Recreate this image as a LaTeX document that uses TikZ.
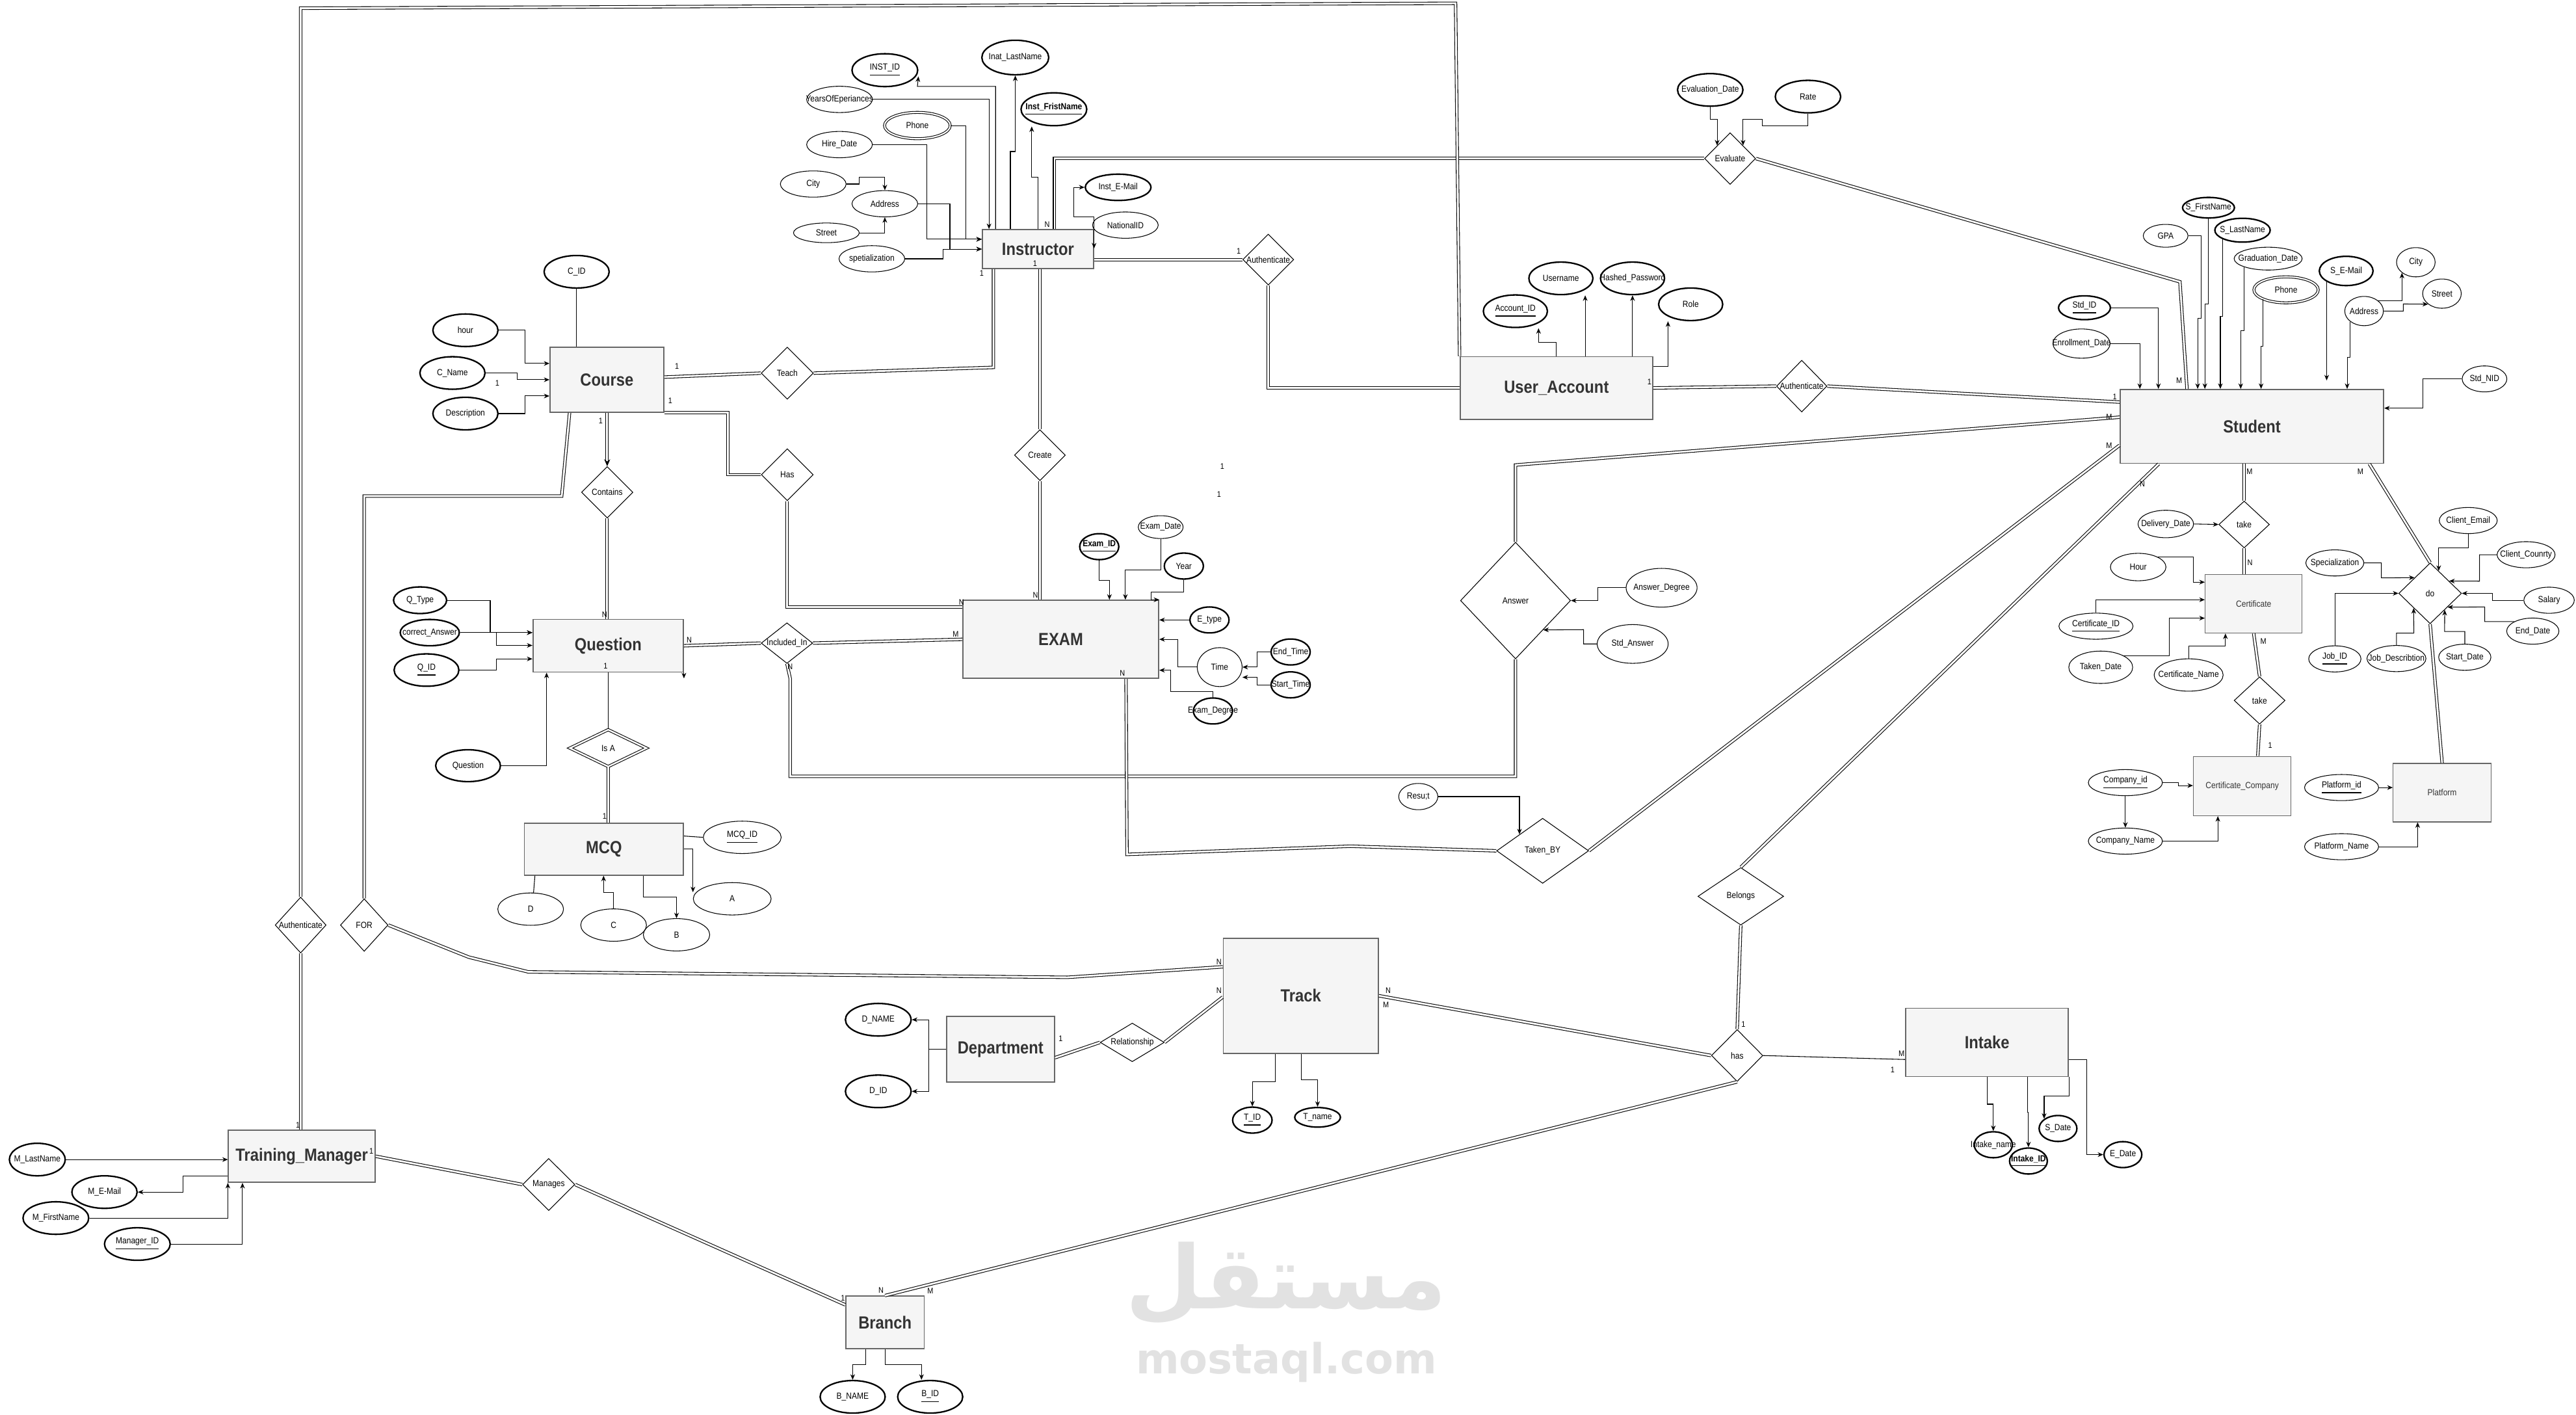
\documentclass[tikz,border=0pt]{standalone}
\usepackage{fontspec}
\setmainfont{Liberation Sans}[FakeStretch=0.88]
\newfontfamily\arabicfont[Script=Arabic]{DejaVu Sans}
\newfontfamily\markfont{DejaVu Sans}
\TeXXeTstate=1
\usetikzlibrary{shapes.geometric,arrows.meta,calc}
\definecolor{ERFill}{HTML}{F5F5F5}
\definecolor{ERLine}{HTML}{666666}
\definecolor{ERText}{HTML}{333333}
\definecolor{ERMark}{HTML}{E2E2E2}
\newcommand\attfont{\fontsize{3.85}{4.5}\selectfont}
\newcommand\entfont{\fontsize{7.6}{9}\selectfont\bfseries}
\newcommand\cardfont{\fontsize{3.5}{4}\selectfont}
\tikzset{
  ent/.style 2 args={draw=ERLine, fill=ERFill, line width=0.5pt, text=ERText, font=\entfont, inner sep=0pt, minimum width={#1*0.025cm}, minimum height={#2*0.025cm}},
  went/.style 2 args={ent={#1}{#2}, line width=0.35pt, font=\attfont},
  zw/.style={execute at begin node={\hbox to 0pt\bgroup\hss}, execute at end node={\hss\egroup}},
  att/.style 2 args={ellipse, draw, line width=0.3pt, inner sep=0pt, font=\attfont, zw, minimum width={#1*0.025cm}, minimum height={#2*0.025cm}},
  attb/.style 2 args={att={#1}{#2}, line width=0.65pt},
  attm/.style 2 args={att={#1}{#2}, double, double distance=0.6pt, line width=0.3pt},
  rel/.style 2 args={diamond, draw, line width=0.3pt, inner sep=0pt, font=\attfont, zw, minimum width={#1*0.025cm}, minimum height={#2*0.025cm}},
  wrel/.style 2 args={rel={#1}{#2}, double, double distance=0.7pt},
  card/.style={font=\cardfont, inner sep=0pt},
  ln/.style={line width=0.3pt},
  arr/.style={line width=0.3pt, -{Stealth[length=2.4pt,width=2pt]}},
  arr2/.style={line width=0.3pt, {Stealth[length=2.4pt,width=2pt]}-{Stealth[length=2.4pt,width=2pt]}},
  dbl/.style={double, double distance=0.8pt, line width=0.3pt},
}
\begin{document}
\begin{tikzpicture}[x=0.025cm,y=-0.025cm]
\path[use as bounding box] (0,0) rectangle (1568,861);
\node[text=ERMark, inner sep=0pt, font=\arabicfont\bfseries\fontsize{38}{38}\selectfont] (wmar) at (783,781) {\beginR مستقل\endR};
\node[text=ERMark, inner sep=0pt, font=\markfont\bfseries\fontsize{18}{18}\selectfont] (wmlat) at (783,829) {mostaql.com};

\node[ent={67.6}{23.7}] (instr) at (631.8,151.6) {Instructor};
\node[ent={69.2}{39.6}] (course) at (369.4,231.1) {Course};
\node[ent={91.5}{32}] (quest) at (370.2,393) {Question};
\node[ent={119.2}{47.5}] (exam) at (645.7,389.1) {EXAM};
\node[ent={96.8}{31.6}] (mcq) at (367.6,516.8) {MCQ};
\node[ent={117.2}{38.1}] (uacc) at (947.4,236.1) {User\_Account};
\node[ent={160.4}{44.9}] (stud) at (1370.7,259.5) {Student};
\node[went={59}{35.6}] (cert) at (1371.8,367.5) {Certificate};
\node[went={59.4}{36.1}] (certco) at (1364.8,478.4) {Certificate\_Company};
\node[went={59.6}{35.6}] (platf) at (1486.5,482.4) {Platform};
\node[ent={94.3}{70}] (track) at (791.8,606) {Track};
\node[ent={65.7}{39.9}] (dept) at (609,638.6) {Department};
\node[ent={99}{41.6}] (intake) at (1209.5,634.4) {Intake};
\node[ent={89.3}{31.7}] (trman) at (183.7,703.7) {Training\_Manager};
\node[ent={47.8}{31.9}] (branch) at (538.7,804.8) {Branch};

\node[rel={31.7}{31.7}] (teach) at (479.2,227.1) {Teach};
\node[rel={31.7}{31.7}] (hasc) at (479.2,288.9) {Has};
\node[rel={31.3}{31.3}] (contains) at (369.6,299.6) {Contains};
\node[rel={31}{31}] (create) at (633,277) {Create};
\node[rel={31.3}{24.7}] (incl) at (479,391.4) {Included\_In};
\node[wrel={46.8}{22.6}] (isa) at (370.2,455.3) {Is A};
\node[rel={31}{31}] (authI) at (772,158) {Authenticate};
\node[rel={31.1}{31.5}] (evalr) at (1053.1,96.5) {Evaluate};
\node[rel={30.7}{31.5}] (authS) at (1096.7,235) {Authenticate};
\node[rel={67}{71}] (answer) at (922.5,365.5) {Answer};
\node[rel={56}{39.6}] (takenby) at (939,517.8) {Taken\_BY};
\node[rel={52.2}{35}] (belongs) at (1059.6,545.5) {Belongs};
\node[rel={31.3}{31.6}] (hasi) at (1057.4,642.4) {has};
\node[rel={30.8}{28.5}] (taket) at (1366,319.2) {take};
\node[rel={31}{28.8}] (takec) at (1375.4,426.3) {take};
\node[rel={38.2}{37}] (dor) at (1479.2,361.1) {do};
\node[rel={31}{34}] (authT) at (183,563) {Authenticate};
\node[rel={29}{32}] (forr) at (221.7,563) {FOR};
\node[rel={39}{23.5}] (relship) at (689.2,634.4) {Relationship};
\node[rel={31.8}{31.7}] (manages) at (334,720.9) {Manages};

\node[attb={40}{20}] (instid) at (538.6,42.7) {\underline{INST\_ID}};
\node[attb={40.7}{21}] (instln) at (618,35) {Inat\_LastName};
\node[att={40}{16}] (yexp) at (511,60.5) {YearsOfEperiances};
\node[attb={40}{20}] (instfn) at (641.5,66.5) {\bfseries\underline{Inst\_FristName}};
\node[attm={40}{16}] (iphone) at (558.4,76.4) {Phone};
\node[att={40}{16}] (hired) at (511,88) {Hire\_Date};
\node[att={40}{16}] (icity) at (495,112) {City};
\node[att={40}{16}] (iaddr) at (538.6,124) {Address};
\node[att={40}{12}] (istreet) at (503,141.7) {Street};
\node[att={40}{16}] (ispec) at (530.7,157.5) {spetialization};
\node[attb={40}{16}] (imail) at (680.6,114) {Inst\_E-Mail};
\node[att={40}{16}] (inid) at (685,137) {NationalID};

\node[attb={39.6}{19.8}] (cid) at (351,165.4) {C\_ID};
\node[attb={39.6}{19.8}] (chour) at (283.3,201) {hour};
\node[attb={39.6}{19.8}] (cname) at (275.4,227) {C\_Name};
\node[attb={39.6}{19.8}] (cdesc) at (283.3,251.7) {Description};

\node[attb={32.3}{16.2}] (qtype) at (255.7,365.3) {Q\_Type};
\node[attb={36}{16}] (qans) at (261.6,385) {correct\_Answer};
\node[attb={39.4}{19.7}] (qid) at (259.6,407.8) {\underline{Q\_ID}};
\node[attb={39.4}{19.4}] (qtext) at (284.9,466) {Question};

\node[att={47.4}{19.7}] (mcqid) at (451.8,509.6) {\underline{MCQ\_ID}};
\node[att={47.4}{19.7}] (ma) at (445.7,547) {A};
\node[att={40.4}{19.7}] (mb) at (411.8,568.9) {B};
\node[att={40}{19.7}] (mc) at (373.5,563) {C};
\node[att={40}{19.7}] (md) at (323,553.3) {D};

\node[attb={23.8}{15.8}] (examid) at (669.1,332.7) {\bfseries\underline{Exam\_ID}};
\node[att={27.3}{13.9}] (examdate) at (706.5,320.8) {Exam\_Date};
\node[attb={23.8}{15.8}] (eyear) at (720.6,344.5) {Year};
\node[attb={23.8}{15.8}] (etype) at (736.2,377.3) {E\_type};
\node[att={27.3}{23.7}] (etime) at (742.4,406) {Time};
\node[attb={23.8}{15.8}] (endt) at (785.6,396.8) {End\_Time};
\node[attb={23.8}{15.8}] (startt) at (785.6,416.8) {Start\_Time};
\node[attb={23.8}{15.8}] (edeg) at (738.3,432.7) {Exam\_Degree};

\node[attb={39}{19.8}] (accid) at (922.4,189.4) {\underline{Account\_ID}};
\node[attb={39}{19.8}] (uname) at (950.1,169.4) {Username};
\node[attb={39}{19.8}] (hpass) at (993.7,169.4) {Hashed\_Password};
\node[attb={39}{19.8}] (urole) at (1029.1,185.2) {Role};
\node[attb={39.8}{19.8}] (evdate) at (1041,54.7) {Evaluation\_Date};
\node[attb={39.8}{19.8}] (rate) at (1100.5,58.8) {Rate};

\node[att={43.2}{23.6}] (ansdeg) at (1011.4,357.7) {Answer\_Degree};
\node[att={43.2}{23.6}] (stdans) at (993.8,391.9) {Std\_Answer};
\node[att={23.8}{16}] (result) at (863.3,484.8) {Resu;t};

\node[attb={31.6}{12.5}] (sfn) at (1344.3,126.4) {S\_FirstName};
\node[att={27.2}{13.9}] (gpa) at (1318.2,143.5) {GPA};
\node[attb={33.7}{14.5}] (sln) at (1365,140.1) {S\_LastName};
\node[att={41.4}{13.9}] (gradd) at (1380.6,157.4) {Graduation\_Date};
\node[attm={39.2}{15.8}] (sphone) at (1391.5,176.4) {Phone};
\node[attb={32.7}{17.8}] (smail) at (1428.1,164.9) {S\_E-Mail};
\node[att={23.5}{17.8}] (scity) at (1470.5,159.6) {City};
\node[att={23.5}{17.8}] (sstreet) at (1486.4,178.7) {Street};
\node[att={23.5}{17.8}] (saddr) at (1439,189.3) {Address};
\node[attb={31.6}{14.5}] (stdid) at (1268.8,187.3) {\underline{Std\_ID}};
\node[att={34.8}{17.8}] (enrd) at (1267,209.1) {Enrollment\_Date};
\node[att={27.2}{15.8}] (stdnid) at (1512.3,230.6) {Std\_NID};

\node[att={33.8}{16.7}] (deliv) at (1318.3,318.9) {Delivery\_Date};
\node[att={33.8}{16.7}] (chr) at (1301.5,345.1) {Hour};
\node[att={45.1}{15.9}] (certid) at (1275.8,381.1) {\underline{Certificate\_ID}};
\node[att={38.9}{19.7}] (takend) at (1278.7,406.1) {Taken\_Date};
\node[att={42}{19.7}] (certname) at (1332.2,410.8) {Certificate\_Name};
\node[att={45.1}{15.9}] (compid) at (1293.7,476.3) {\underline{Company\_id}};
\node[att={45.1}{15.9}] (compname) at (1293.7,511.9) {Company\_Name};
\node[att={45.1}{15.9}] (platid) at (1425.3,479.3) {\underline{Platform\_id}};
\node[att={45.1}{15.9}] (platname) at (1425.3,515.3) {Platform\_Name};
\node[att={35.3}{15.9}] (cmail) at (1502.4,316.8) {Client\_Email};
\node[att={35.3}{15.9}] (ccountry) at (1537.6,337.6) {Client\_Counrty};
\node[att={30.7}{15.9}] (salary) at (1551.6,365.3) {Salary};
\node[att={31.8}{15.9}] (endd) at (1541.7,384.1) {End\_Date};
\node[att={31.8}{15.9}] (startd) at (1500.3,400) {Start\_Date};
\node[att={35.9}{15.9}] (jobdesc) at (1458.7,400.8) {Job\_Describtion};
\node[att={31.8}{15.9}] (jobid) at (1421.2,401) {\underline{Job\_ID}};
\node[att={35.3}{15.9}] (dspec) at (1421.2,342.6) {Specialization};

\node[attb={40}{19.8}] (dname) at (534.6,620.6) {D\_NAME};
\node[attb={40}{19.8}] (did) at (534.6,664.2) {D\_ID};
\node[attb={24}{15.8}] (tid) at (762.3,681.7) {\underline{T\_ID}};
\node[attb={27.8}{11.9}] (tname) at (802,680) {T\_name};

\node[attb={23.2}{15.8}] (iname) at (1213.3,696.7) {Intake\_name};
\node[attb={23}{15.8}] (intid) at (1234.7,706.6) {\bfseries\underline{Intake\_ID}};
\node[attb={23}{15.8}] (sdate) at (1252.7,686.8) {S\_Date};
\node[attb={23}{15.8}] (edate) at (1292.2,702.7) {E\_Date};

\node[attb={34}{19.8}] (mln) at (22.7,705.7) {M\_LastName};
\node[attb={39.7}{19.8}] (mmail) at (63.6,725.5) {M\_E-Mail};
\node[attb={40}{19.8}] (mfn) at (34,741.3) {M\_FirstName};
\node[attb={40}{19.8}] (mid) at (83.6,757.1) {\underline{Manager\_ID}};

\node[attb={39.6}{19.8}] (bname) at (519,850.1) {B\_NAME};
\node[attb={39.6}{19.8}] (bid) at (566.2,850.1) {\underline{B\_ID}};

\coordinate (doA) at ($(dor.north)!.27!(dor.east)$);
\coordinate (doB) at ($(dor.north)!.6!(dor.east)$);
\coordinate (doC) at ($(dor.east)!.45!(dor.south)$);
\coordinate (doD) at ($(dor.south)!.46!(dor.east)$);
\coordinate (doE) at ($(dor.south)!.52!(dor.west)$);
\coordinate (doF) at ($(dor.west)!.51!(dor.north)$);

\draw[arr] (instr.north -| 606,0) |- (558.4,52.6) -- (instid.east |- 0,46.5);
\draw[arr] (yexp.east) -| (instr.north -| 602,0);
\draw[arr] (instr.north -| 615,0) |- (618,92.2) -- (instln.south);
\draw[arr] (instr.north) |- (628,108) -- (instfn.south -| 628,0);
\draw[arr] (iphone.east) -| (588,145.6) -- (instr.west |- 0,145.6);
\draw[arr] (hired.east) -| (564.3,145.6) -- (instr.west |- 0,145.6);
\draw[arr] (iaddr.east) -| (578.2,151.6) -- (instr.west);
\draw[arr] (ispec.east) -| (574.2,151.6) -- (instr.west);
\draw[arr] (icity.east) -| (523.1,108) -| (iaddr.north);
\draw[arr] (istreet.east) -| (iaddr.south);
\draw[arr2] (imail.west) -| (653.7,131.8) -| (instr.east |- 0,151.2);

\draw[dbl] (teach.east) -- (604.7,223.6) -- (instr.south -| 604.7,0);
\draw[dbl] (instr.south -| create) -- (create.north);
\draw[dbl] (create.south) -- (exam.north -| create);
\draw[dbl] (instr.north -| 641.9,0) |- (evalr.west);
\draw[dbl] (instr.east |- authI) -- (authI.west);
\draw[dbl] (authI.south) |- (uacc.west);

\draw[ln] (cid.south) -- (course.north -| cid);
\draw[arr] (chour.east) -| (319.4,221.2) -- (course.west |- 0,221.2);
\draw[arr] (cname.east) -| (315,231.1) -- (course.west);
\draw[arr] (cdesc.east) -| (319.4,241) -- (course.west |- 0,241);
\draw[dbl] (course.east |- 0,229.5) -- (teach.west);
\draw[dbl,-{Stealth[length=3pt,width=2.6pt]}] (course.south -| contains) -- (contains.north);
\draw[dbl] (course.south east) -| (443.2,288.9) -- (hasc.west);
\draw[dbl] (hasc.south) |- (exam.west |- 0,369.4);
\draw[dbl] (course.south -| 346.7,0) -- (341.9,301.9) -| (forr.north);
\draw[dbl] (forr.east) -- (285.3,582.5) -- (321.6,591.5) -- (649.8,594.8) -- (track.west |- 0,588.4);
\draw[dbl] (contains.south) -- (quest.north -| contains);

\draw[arr] (qtype.east) -| (298.4,385) -- (quest.west |- 0,385);
\draw[arr] (qans.east) -- (quest.west |- 0,385);
\draw[arr] (qans.east) -| (302,392.8) -- (quest.west |- 0,392.8);
\draw[arr] (qid.east) -| (302,401) -- (quest.west |- 0,401);
\draw[arr] (qtext.east) -| (quest.south -| 332.7,0);
\draw[arr] (quest.south east) -- ++(0,3.5);
\draw[dbl] (quest.east) -- (incl.west);
\draw[dbl] (incl.east) -- (exam.west);
\draw[ln] (quest.south) -- (isa.north);
\draw[dbl] (isa.south) -- (mcq.north -| isa);
\draw[dbl] (incl.south) -- (481,413) |- (answer.south |- 0,472.5) -- (answer.south);

\draw[ln] (mcq.east |- 0,508.8) -- (mcqid.west);
\draw[arr] (mcq.east |- 0,516.7) -| (ma.west |- 0,543);
\draw[arr] (mcq.south -| 391.6,0) |- (mb.north |- 0,546) -- (mb.north);
\draw[arr] (mc.north) |- (367.4,543) -- (mcq.south -| 367.4,0);
\draw[ln] (md.80) -- (mcq.south -| 325.6,0);

\draw[arr] (examid.south) |- (675.3,353.1) -- (exam.north -| 675.3,0);
\draw[arr] (examdate.south) |- (685,346.7) -- (exam.north -| 685,0);
\draw[arr] (eyear.south) |- (700.8,360.5) |- (exam.north east);
\draw[arr] (etype.west) -- (exam.east |- etype);
\draw[arr] (etime.west) -| (716.8,389.1) -- (exam.east);
\draw[arr] (endt.west) -| (765.3,406) -- (etime.east);
\draw[arr] (startt.west) -| (765.3,412.2) -- (etime.east |- 0,412.2);
\draw[arr] (edeg.north) |- (712.7,420.8) |- (exam.east |- 0,407.9);
\draw[dbl] (exam.south -| 685.4,0) -- (686,520) -- (822,515) -- (takenby.west);

\draw[arr] (uacc.north) |- (936.5,208.3) -- (accid.south -| 936.5,0);
\draw[arr] (uacc.north -| 964.9,0) -- (uname.south -| 964.9,0);
\draw[arr] (uacc.north -| hpass) -- (hpass.south);
\draw[arr] (uacc.east |- 0,222.9) -| (urole.south -| 1015.3,0);
\draw[dbl] (uacc.east) -- (authS.west);
\draw[dbl] (authS.east) -- (stud.west |- 0,244.7);
\draw[arr] (evdate.south) |- (evalr.north west |- 0,72.7) -- (evalr.north west);
\draw[arr] (rate.south) |- (1072.8,76.4) |- (evalr.north east |- 0,72.7) -- (evalr.north east);
\draw[dbl] (evalr.east) -- (1326.9,171.5) -- (stud.north -| 1331.2,0);
\draw[dbl] (authT.north) -- (183,5) -- (886,2) -- (uacc.north west);
\draw[dbl] (authT.south) -- (trman.north -| authT);

\draw[arr] (ansdeg.west) -| (972.7,365.5) -- (answer.east);
\draw[arr] (stdans.west) -| (963.9,383.2) -- (answer.south east);
\draw[dbl] (answer.north) -- (922.5,283) -- (stud.west |- 0,253.9);
\draw[arr] (result.east) -| (takenby.north west);
\draw[dbl] (takenby.east) -- (stud.west |- 0,271);
\draw[dbl] (belongs.north) -- (stud.south -| 1314,0);
\draw[dbl] (belongs.south) -- (hasi.north);
\draw[dbl] (track.east) -- (hasi.west);
\draw[ln] (hasi.east) -- (intake.west |- 0,644.8);
\draw[dbl] (hasi.south) -- (branch.north);
\draw[dbl] (manages.east) -- (branch.west |- 0,794.1);
\draw[dbl] (trman.east) -- (manages.west);

\draw[arr] (dept.west) -| (565.3,620.6) -- (dname.east);
\draw[arr] (dept.west) -| (565.3,664.2) -- (did.east);
\draw[dbl] (dept.east |- 0,643.7) -- (relship.west);
\draw[dbl] (relship.east) -- (track.west |- 0,606.8);
\draw[arr] (track.south -| 776.2,0) |- (tid.north |- 0,658.2) -- (tid.north);
\draw[arr] (track.south -| 792.1,0) |- (tname.north |- 0,657) -- (tname.north);

\draw[arr] (intake.south) |- (iname.north |- 0,672) -- (iname.north);
\draw[arr] (intake.south -| 1234.1,0) |- (intid.north |- 0,677) -- (intid.north);
\draw[arr] (intake.south east) |- (sdate.north west |- 0,667.2) -- (sdate.north west);
\draw[arr] (intake.east |- 0,645) -| (1270,702.7) -- (edate.west);

\draw[arr] (mln.east) -- (trman.west |- mln);
\draw[arr] (trman.west |- 0,715.6) -| (111.3,725.5) -- (mmail.east);
\draw[arr] (mfn.east) -| (trman.south west);
\draw[arr] (mid.east) -| (trman.south -| 147.6,0);

\draw[arr] (branch.south -| 527,0) |- (bname.north |- 0,830.4) -- (bname.north);
\draw[arr] (branch.south -| 538.9,0) |- (560.9,830.4) -- (bid.north -| 560.9,0);

\draw[arr] (stdid.east) -| (stud.north -| 1313.8,0);
\draw[arr] (enrd.east) -| (stud.north -| 1302.5,0);
\draw[arr] (gpa.east) -| (1340,193.9) -| (stud.north -| 1337.7,0);
\draw[arr] (sfn.south) |- (1342.1,185.1) -- (stud.north -| 1342.1,0);
\draw[arr] (sln.south west) |- (1351.5,192.6) -- (stud.north -| 1351.5,0);
\draw[arr] (gradd.south west) |- (1363.9,201.2) -- (stud.north -| 1363.9,0);
\draw[arr] (sphone.south west) |- (1376.3,210.8) -- (stud.north -| 1376.3,0);
\draw[arr] (smail.south west) -- ++(0,60);
\draw[arr] (saddr.south west) |- (1428.7,217.6) -- (stud.north -| 1428.7,0);
\draw[arr] (saddr.north east) -| (scity.south west);
\draw[arr] (saddr.east) -| (1462.9,185) -- (sstreet.south west);
\draw[arr] (stdnid.west) -| (1474.9,248.4) -- (stud.east |- 0,248.4);

\draw[dbl] (stud.south -| taket) -- (taket.north);
\draw[arr] (deliv.east) -- (taket.west);
\draw[dbl] (taket.south) -- (cert.north -| taket);
\draw[dbl] (stud.south -| 1442.2,0) -- (dor.north);
\draw[dbl] (dor.south) -- (platf.north);
\draw[arr] (chr.north east) -| (1335.1,354.3) -- (cert.west |- 0,354.3);
\draw[arr] (certid.north) |- (cert.west |- 0,365);
\draw[arr] (takend.north east) -| (1320.3,376.2) -- (cert.west |- 0,376.2);
\draw[arr] (certname.north) |- (1354.6,393.2) -- (cert.south -| 1354.6,0);
\draw[dbl] (cert.south) -- (takec.north);
\draw[dbl] (takec.south) -- (certco.north -| 1374.3,0);
\draw[arr] (compid.east) -| (1326.1,478.1) -- (certco.west |- 0,478.1);
\draw[arr] (compid.south) -- (compname.north);
\draw[arr] (compname.east) -| (certco.south -| 1350,0);
\draw[arr] (platid.east) -- (platf.west |- platid);
\draw[arr] (platname.east) -| (platf.south -| 1471.6,0);
\draw[arr] (cmail.south) |- (doA |- 0,333.5) -- (doA);
\draw[arr] (ccountry.west) -| (1509.3,353.7) -- (doB);
\draw[arr] (salary.west) -| (1517.1,361.1) -- (dor.east);
\draw[arr] (endd.north west) -| (1512.4,369.4) -- (doC);
\draw[arr] (startd.north) |- (1488,384.3) -- (doD);
\draw[arr] (jobdesc.north) |- (1469.3,385.3) -- (doE);
\draw[arr] (jobid.north) |- (dor.west);
\draw[arr] (dspec.east) -| (1449.5,351.7) -- (doF);

\node[card] (k1) at (637.4,136.5) {N};
\node[card] (k2) at (630,160.3) {1};
\node[card] (k3) at (597.6,166.2) {1};
\node[card] (k4) at (754,153) {1};
\node[card] (k5) at (412,222.8) {1};
\node[card] (k6) at (302.7,233) {1};
\node[card] (k7) at (365.6,256) {1};
\node[card] (k8) at (408,243.8) {1};
\node[card] (k9) at (368,374) {N};
\node[card] (k10) at (419.5,389.6) {N};
\node[card] (k11) at (368.6,405.4) {1};
\node[card] (k12) at (481,405.6) {N};
\node[card] (k13) at (368,496.7) {1};
\node[card] (k14) at (630.3,362.1) {N};
\node[card] (k15) at (585.3,366.7) {N};
\node[card] (k16) at (581.7,385.8) {M};
\node[card] (k17) at (683.2,409.6) {N};
\node[card] (k18) at (1004,232.5) {1};
\node[card] (k19) at (1287.3,241.4) {1};
\node[card] (k20) at (1283.8,253.7) {M};
\node[card] (k21) at (1283.8,271.1) {M};
\node[card] (k22) at (1326.4,231.5) {M};
\node[card] (k23) at (1304,294.4) {N};
\node[card] (k24) at (1369.3,286.9) {M};
\node[card] (k25) at (1436.8,286.9) {M};
\node[card] (k26) at (1369.5,342.6) {N};
\node[card] (k27) at (1377.7,390.2) {M};
\node[card] (k28) at (1381.8,453.5) {1};
\node[card] (k29) at (742,585.3) {N};
\node[card] (k30) at (742,603) {N};
\node[card] (k31) at (845,603) {N};
\node[card] (k32) at (843.6,611.7) {M};
\node[card] (k33) at (645.6,632.1) {1};
\node[card] (k34) at (1061.2,623.6) {1};
\node[card] (k35) at (1157.5,641.3) {M};
\node[card] (k36) at (1152,651.2) {1};
\node[card] (k37) at (181.3,684.6) {1};
\node[card] (k38) at (226,700.4) {1};
\node[card] (k39) at (513.1,790.1) {1};
\node[card] (k40) at (536.3,785.3) {N};
\node[card] (k41) at (566.3,785.5) {M};
\node[card] (k42) at (744,284) {1};
\node[card] (k43) at (742,301) {1};
\end{tikzpicture}
\end{document}
